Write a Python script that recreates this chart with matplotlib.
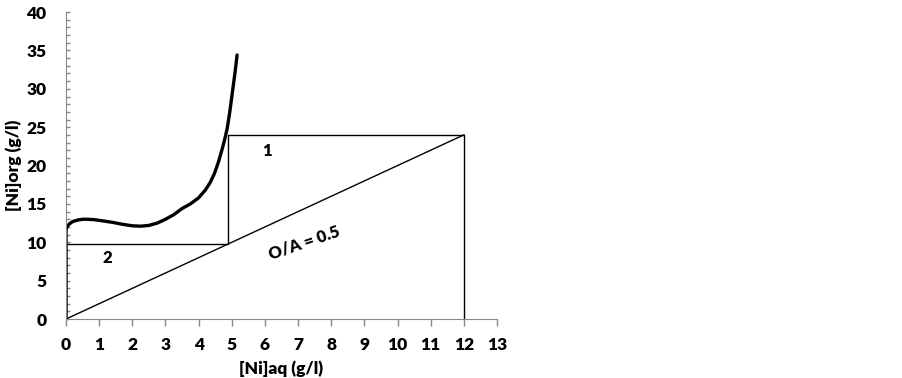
import numpy as np
import matplotlib.pyplot as plt
from matplotlib.ticker import MultipleLocator

# equilibrium isotherm
curve_x = [0.0, 0.0, 0.03, 0.1, 0.2, 0.35, 0.5, 0.65, 0.85, 1.1, 1.4, 1.7, 2.0, 2.25, 2.5,
           2.75, 3.0, 3.25, 3.5, 3.75, 4.0, 4.2, 4.35, 4.48, 4.6, 4.7, 4.78, 4.86, 4.94, 5.02, 5.1, 5.16]
curve_y = [0.0, 11.6, 12.0, 12.4, 12.7, 12.9, 13.0, 13.0, 12.95, 12.8, 12.6, 12.35, 12.15, 12.1, 12.2,
           12.5, 13.0, 13.6, 14.4, 15.0, 15.8, 16.8, 17.8, 19.0, 20.5, 22.0, 23.3, 24.8, 27.0, 29.6, 32.2, 34.4]

# McCabe-Thiele stages
stairs_x = [0, 0, 4.9, 4.9, 12, 12]
stairs_y = [0, 9.8, 9.8, 24, 24, 0]

# operating line O/A = 0.5
op_x = [0, 12]
op_y = [0, 24]

stage_labels = ["1", "2"]
stage_pos = [(6.05, 21.9), (1.25, 7.9)]

plt.rcParams['font.family'] = ['Lato', 'DejaVu Sans']
plt.rcParams['font.weight'] = 'bold'

fig = plt.figure(figsize=(9.02, 3.78), dpi=100)
ax = fig.add_axes([0.0732, 0.156, 0.4778, 0.812])

ax.plot(curve_x, curve_y, color='black', linewidth=2.4, solid_capstyle='round', solid_joinstyle='round')
ax.plot(stairs_x, stairs_y, color='black', linewidth=1.0)
ax.plot(op_x, op_y, color='black', linewidth=1.0)

for lab, (tx, ty) in zip(stage_labels, stage_pos):
    ax.text(tx, ty, lab, fontsize=12, fontweight='heavy', ha='center', va='center')
ax.text(7.2, 9.9, "O/A = 0.5", fontsize=12, fontweight='heavy', ha='center', va='center', rotation=19)

ax.set_xlim(0, 13)
ax.set_ylim(0, 40)
ax.xaxis.set_major_locator(MultipleLocator(1))
ax.yaxis.set_major_locator(MultipleLocator(5))
ax.yaxis.set_minor_locator(MultipleLocator(1))

ax.tick_params(axis='x', direction='out', length=5, width=1, color='#888888', labelsize=12.5, pad=8)
ax.tick_params(axis='y', which='both', direction='in', length=3, width=1, color='#888888', labelsize=12.5, pad=14)
for t in ax.get_xticklabels() + ax.get_yticklabels():
    t.set_fontweight('heavy')

for s in ['top', 'right']:
    ax.spines[s].set_visible(False)
for s in ['left', 'bottom']:
    ax.spines[s].set_color('#888888')

ax.set_xlabel("[Ni]aq (g/l)", fontsize=12.5, fontweight='heavy', labelpad=5)
ax.set_ylabel("[Ni]org (g/l)", fontsize=12.5, fontweight='heavy', labelpad=3)

fig.savefig("out.png", dpi=100)
